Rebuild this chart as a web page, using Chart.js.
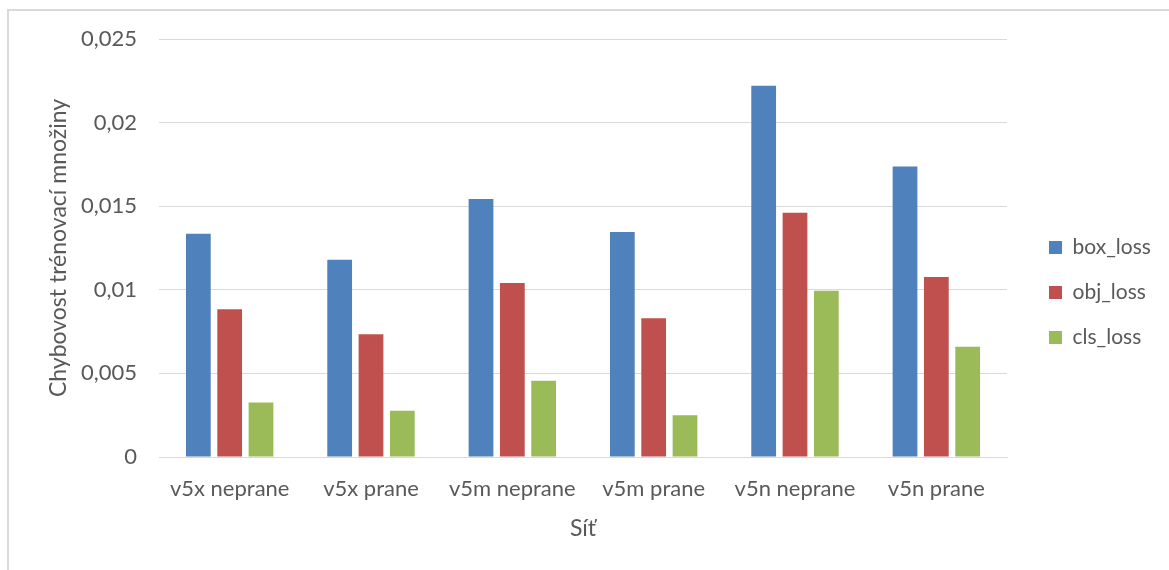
<!DOCTYPE html>
<html>
<head>
<meta charset="utf-8">
<title>Chybovost trénovací množiny</title>
<script src="https://cdn.jsdelivr.net/npm/chart.js@4/dist/chart.umd.min.js"></script>
<style>
  html, body { margin: 0; padding: 0; background: #ffffff; }
  body { width: 1169px; height: 570px; position: relative; overflow: hidden; }
  #frame {
    position: absolute; left: 7px; top: 9px; width: 1200px; height: 600px;
    border-left: 2px solid #d9d9d9; border-top: 2px solid #d9d9d9;
  }
  #wrap { position: absolute; left: 0; top: 0; width: 1169px; height: 570px; }
</style>
</head>
<body>
<div id="frame"></div>
<div id="wrap"><canvas id="chart" width="1169" height="570"></canvas></div>
<script>
// Networks (categories) and training losses per network
const categories = ['v5x neprane', 'v5x prane', 'v5m neprane', 'v5m prane', 'v5n neprane', 'v5n prane'];
const seriesNames = ['box_loss', 'obj_loss', 'cls_loss'];
const boxLoss = [0.01335, 0.01179, 0.01543, 0.01345, 0.0222, 0.01737];
const objLoss = [0.00884, 0.00734, 0.0104, 0.0083, 0.01461, 0.01076];
const clsLoss = [0.00326, 0.00276, 0.00456, 0.0025, 0.00995, 0.0066];
const yTickLabels = ['0', '0,005', '0,01', '0,015', '0,02', '0,025'];
const xTitle = 'Síť';
const yTitle = 'Chybovost trénovací množiny';

const FONT = 'Lato';
const FS = 22;        // tick labels
const FS_TITLE = 23;  // axis titles
const FS_LEGEND = 21; // legend entries
const TEXT = '#595959';
const GRID = '#d9d9d9';

// legend geometry
const legendPad = 24, legendBox = 13;
const mctx = document.createElement('canvas').getContext('2d');
mctx.font = FS_LEGEND + 'px ' + FONT;
const maxLabelW = Math.max(...seriesNames.map(s => mctx.measureText(s).width));
const legendW = legendPad + legendBox + FS_LEGEND / 2 + maxLabelW + 10;
const legendLeft = 1025;
const padRight = Math.max(0, 1169 - legendLeft - legendW);

new Chart(document.getElementById('chart'), {
  type: 'bar',
  data: {
    labels: categories,
    datasets: [
      { label: seriesNames[0], data: boxLoss, backgroundColor: '#4f81bd' },
      { label: seriesNames[1], data: objLoss, backgroundColor: '#c0504d' },
      { label: seriesNames[2], data: clsLoss, backgroundColor: '#9bbb59' }
    ]
  },
  options: {
    responsive: false,
    animation: false,
    devicePixelRatio: 1,
    layout: { padding: { left: 0, top: 39, right: padRight, bottom: 24 } },
    datasets: { bar: { categoryPercentage: 0.665, barPercentage: 0.79, borderWidth: 0 } },
    plugins: {
      tooltip: { enabled: false },
      legend: {
        position: 'right',
        align: 'center',
        labels: {
          boxWidth: legendBox, boxHeight: legendBox, padding: legendPad,
          color: TEXT, font: { family: FONT, size: FS_LEGEND }
        }
      }
    },
    scales: {
      x: {
        grid: { display: false, drawTicks: false },
        border: { display: true, color: GRID, width: 1 },
        ticks: { color: TEXT, font: { family: FONT, size: FS }, padding: 19, maxRotation: 0, autoSkip: false },
        title: { display: true, text: xTitle, color: TEXT, font: { family: FONT, size: FS_TITLE }, padding: { top: 0, bottom: 4 } },
        afterFit: s => { s.height = 89; }
      },
      y: {
        min: 0, max: 0.025,
        ticks: {
          stepSize: 0.005, color: TEXT, font: { family: FONT, size: FS }, padding: 22,
          callback: (v, i) => yTickLabels[i]
        },
        grid: { color: GRID, lineWidth: 1, drawTicks: false },
        border: { display: false },
        title: { display: true, text: yTitle, color: TEXT, font: { family: FONT, size: FS_TITLE }, padding: { top: 45, bottom: 0 } },
        afterFit: s => { s.width = 159; }
      },
      gap: {
        type: 'linear', position: 'right', display: true,
        grid: { display: false, drawTicks: false },
        border: { display: false },
        ticks: { display: false },
        afterFit: s => { s.width = legendLeft - 1007; }
      }
    }
  }
});
</script>
</body>
</html>
